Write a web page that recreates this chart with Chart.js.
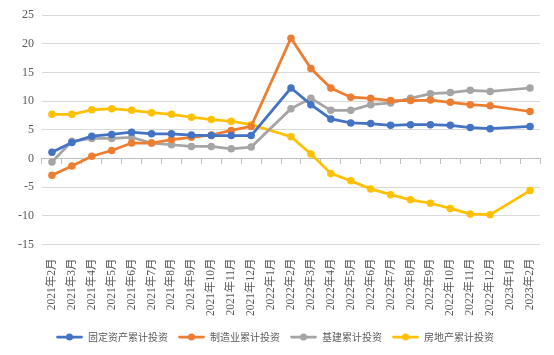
<!DOCTYPE html>
<html><head><meta charset="utf-8">
<script src="https://cdn.jsdelivr.net/npm/chart.js@4/dist/chart.umd.min.js"></script>
<style>html,body{margin:0;padding:0;background:#fff}#wrap{width:554px;height:355px}</style>
</head><body><div id="wrap"><canvas id="c" width="554" height="355"></canvas></div>
<script>
const categories = ['2021年2月','2021年3月','2021年4月','2021年5月','2021年6月','2021年7月','2021年8月','2021年9月','2021年10月','2021年11月','2021年12月','2022年1月','2022年2月','2022年3月','2022年4月','2022年5月','2022年6月','2022年7月','2022年8月','2022年9月','2022年10月','2022年11月','2022年12月','2023年1月','2023年2月'];
const seriesNames = ['固定资产累计投资','制造业累计投资','基建累计投资','房地产累计投资'];
const fixedAsset = [1.1,2.8,3.9,4.2,4.6,4.3,4.3,4.1,4.0,4.0,4.0,null,12.3,9.4,6.9,6.2,6.1,5.8,5.9,5.9,5.8,5.4,5.2,null,5.6];
const manufacturing = [-2.9,-1.3,0.4,1.4,2.7,2.7,3.3,3.7,4.1,4.9,5.6,null,21.0,15.7,12.3,10.7,10.5,10.1,10.1,10.2,9.8,9.4,9.2,null,8.2];
const infrastructure = [-0.6,3.0,3.5,3.5,3.7,2.7,2.4,2.1,2.1,1.7,2.0,null,8.7,10.5,8.4,8.4,9.4,9.7,10.5,11.3,11.5,11.9,11.7,null,12.3];
const realEstate = [7.7,7.7,8.5,8.7,8.4,8.0,7.7,7.2,6.8,6.5,5.9,null,3.8,0.8,-2.6,-3.9,-5.3,-6.3,-7.2,-7.8,-8.7,-9.7,-9.8,null,-5.6];
const yTicks = [-15,-10,-5,0,5,10,15,20,25];

const colors = ['#4472C4','#ED7D31','#A5A5A5','#FFC000'];
const values = [fixedAsset, manufacturing, infrastructure, realEstate];

function legendMarker(color){
  const c = document.createElement('canvas');
  c.width = 27; c.height = 8;
  const g = c.getContext('2d');
  g.strokeStyle = color; g.lineWidth = 2.75; g.lineCap='round';
  g.beginPath(); g.moveTo(1.5,4); g.lineTo(25.5,4); g.stroke();
  g.fillStyle = color; g.beginPath(); g.arc(13.5,4,3.5,0,Math.PI*2); g.fill();
  return c;
}
const markers = colors.map(legendMarker);

new Chart(document.getElementById('c'), {
  type: 'line',
  data: {
    labels: categories,
    datasets: seriesNames.map((n,i)=>({
      label: n, data: values[i], borderColor: colors[i], backgroundColor: colors[i],
      borderWidth: 2.75, pointRadius: 3.75, pointHoverRadius: 3.75, pointBorderWidth: 0,
      spanGaps: true, tension: 0
    }))
  },
  options: {
    responsive: false, animation: false,
    layout: { padding: { left: 10, right: 14, top: 9, bottom: 3 } },
    plugins: {
      tooltip: { enabled: false },
      legend: {
        position: 'bottom',
        labels: {
          usePointStyle: true, pointStyleWidth: 27, boxHeight: 8,
          padding: 10, color: '#595959',
          font: { family: "'Noto Sans CJK SC', sans-serif", size: 10 },
          generateLabels(chart){
            const items = Chart.defaults.plugins.legend.labels.generateLabels(chart);
            items.forEach((it,i)=>{ it.pointStyle = markers[i]; });
            return items;
          }
        }
      }
    },
    scales: {
      x: {
        offset: true,
        grid: { display: false },
        border: { display: false },
        ticks: { autoSkip: false, maxRotation: 90, minRotation: 90, padding: 6, color: '#595959',
          font: { family: "'Liberation Serif', 'Noto Sans CJK SC', serif", size: 11.5 } }
      },
      x2: {
        type: 'category', axis: 'x', position: { y: 0 }, offset: true,
        grid: { offset: true, drawOnChartArea: false, drawTicks: true, tickLength: 5, color: '#BFBFBF' },
        border: { display: true, color: '#BFBFBF', width: 1 },
        ticks: { display: false }
      },
      y: {
        min: -15, max: 25,
        afterBuildTicks(scale){ scale.ticks = yTicks.map(v=>({value:v})); },
        grid: { color: '#D9D9D9', drawTicks: false },
        border: { display: false },
        ticks: { padding: 8, color: '#595959', font: { family: "'Liberation Serif', serif", size: 12 } }
      }
    }
  }
});
</script></body></html>
